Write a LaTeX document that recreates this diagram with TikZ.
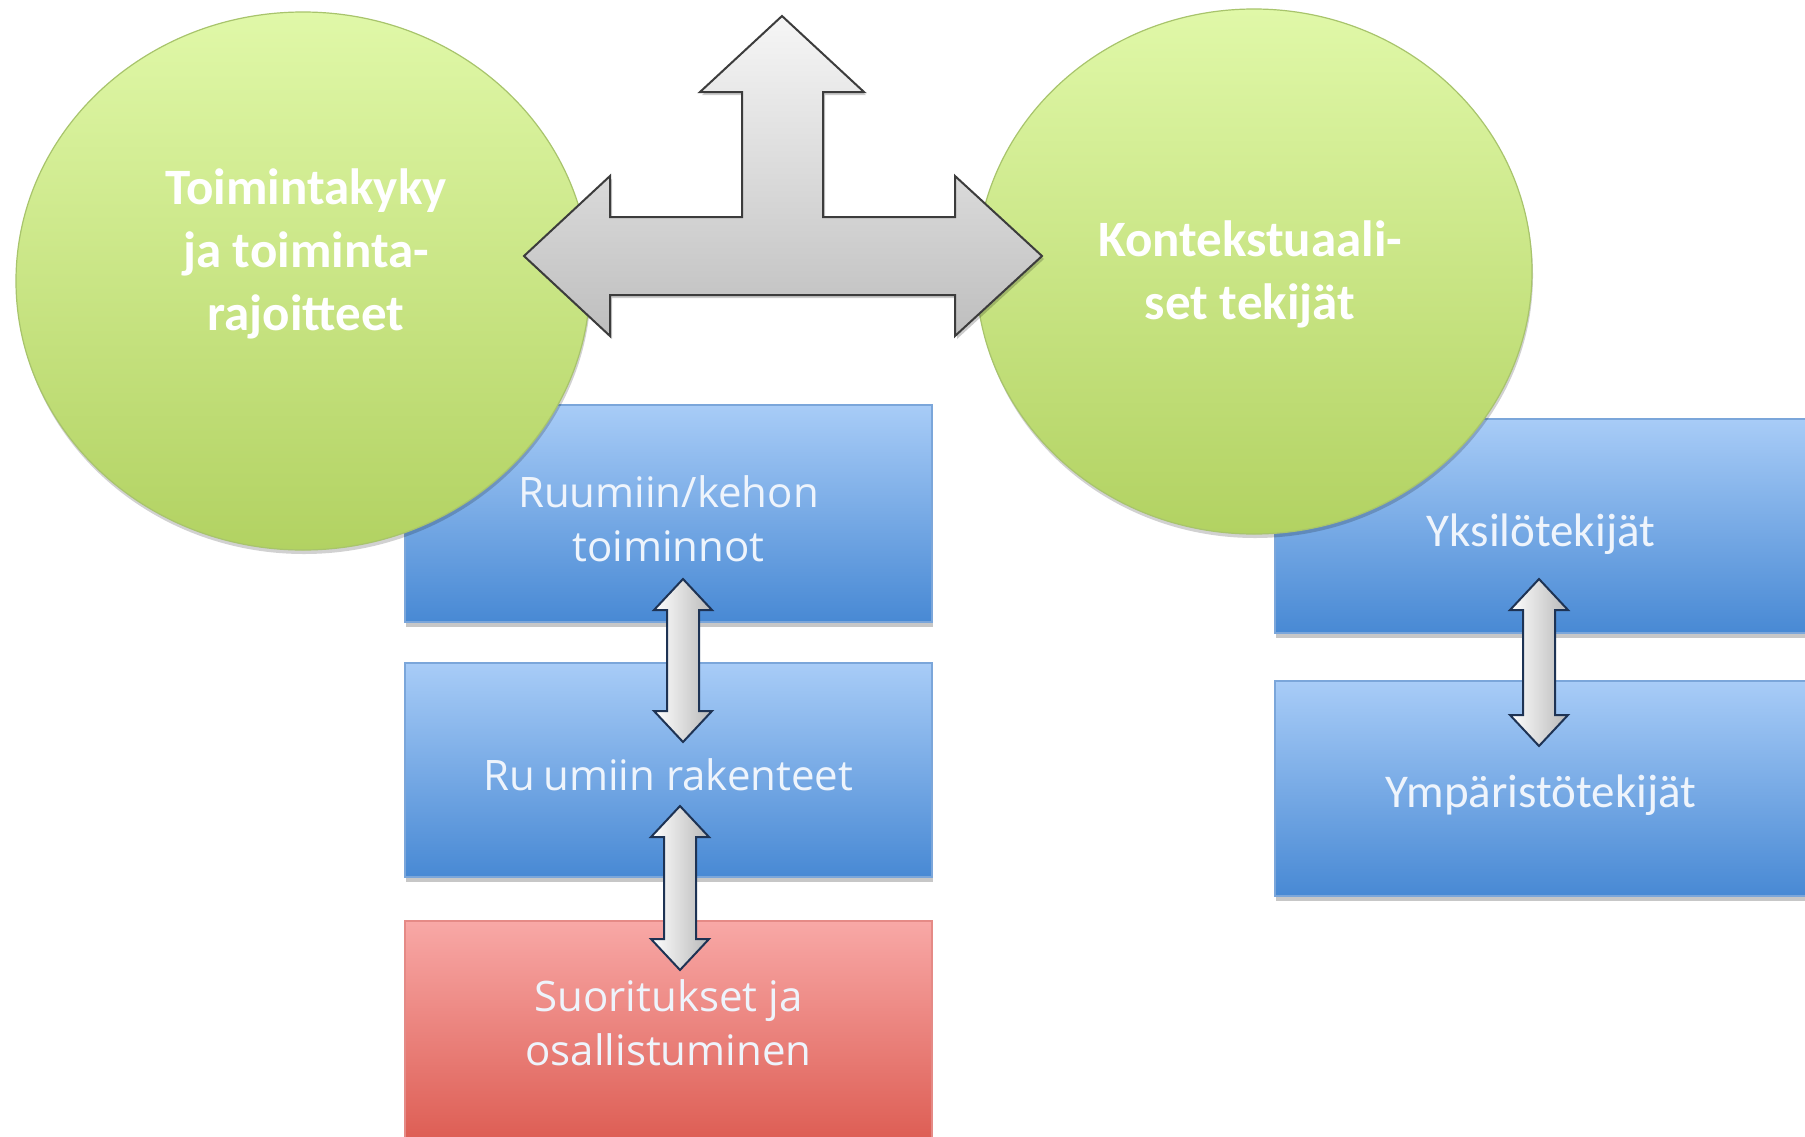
\documentclass[tikz,border=0pt]{standalone}
\usepackage{fontspec}
\setmainfont{Carlito}
\newfontfamily\ellfont{Carlito}[BoldFont={Carlito Bold}]
\newfontfamily\rfont{Carlito}
\newfontfamily\boxfont{Open Sans}
\usetikzlibrary{shapes.geometric,shadows}
\definecolor{gtop}{HTML}{E0F8A8}
\definecolor{gbot}{HTML}{B2D262}
\definecolor{gedge}{HTML}{A8C46C}
\definecolor{btop}{HTML}{A8CCF7}
\definecolor{bbot}{HTML}{4889D4}
\definecolor{bedge}{HTML}{7BA6DA}
\definecolor{rtop}{HTML}{F8A8A6}
\definecolor{rbot}{HTML}{DC5A50}
\definecolor{redge}{HTML}{E58A86}
\definecolor{atop}{HTML}{F6F6F6}
\definecolor{abot}{HTML}{BEBEBE}
\definecolor{aedge}{HTML}{3C3C3C}
\definecolor{sedge}{HTML}{1E3354}
\definecolor{boxtext}{HTML}{EEF4FC}
\tikzset{
  ell/.style={ellipse, inner sep=0pt, draw=gedge, line width=1.2pt, top color=gtop, bottom color=gbot,
    drop shadow={shadow xshift=1pt, shadow yshift=-4pt, opacity=0.18, fill=black}},
  elltext/.style={font=\ellfont\bfseries\fontsize{51}{63}\selectfont, text=white, align=center, inner sep=0pt},
  bluebox/.style={rectangle, inner sep=0pt, draw=bedge, line width=1.2pt, top color=btop, bottom color=bbot,
    drop shadow={shadow xshift=1pt, shadow yshift=-5pt, opacity=0.22, fill=black}},
  redbox/.style={rectangle, inner sep=0pt, draw=redge, line width=1.2pt, top color=rtop, bottom color=rbot},
  ltext/.style={font=\boxfont\fontsize{42}{54}\selectfont, text=boxtext, align=center},
  rtext/.style={font=\rfont\fontsize{47}{60}\selectfont, text=boxtext, align=center},
  bigarrow/.style={draw=aedge, line width=2pt, line join=miter, top color=atop, bottom color=abot,
    drop shadow={shadow xshift=2pt, shadow yshift=-3pt, opacity=0.2, fill=black}},
  smallarrow/.style={draw=sedge, line width=2pt, line join=miter, left color=white, right color=black!28},
  pics/vdbl/.style={code={
    \path[smallarrow] (0,0) -- (29,31) -- (16,31) -- (16,#1-31) -- (29,#1-31) -- (0,#1)
      -- (-29,#1-31) -- (-16,#1-31) -- (-16,31) -- (-29,31) -- cycle;}}
}
\begin{document}
\begin{tikzpicture}[x=1pt,y=-1pt]
\useasboundingbox (0,0) rectangle (1805,1136);
\fill[white] (0,0) rectangle (1805,1136);

% left column boxes
\node[bluebox, minimum width=527, minimum height=217] (b1) at (668.5,513.5) {};
\node[ltext] (b1t) at (668.5,519) {Ruumiin/kehon\\toiminnot};
\node[bluebox, minimum width=527, minimum height=214] (b2) at (668.5,770) {};
\node[ltext] (b2t) at (668.5,775) {Ru\kern8pt umiin rakenteet};
\node[redbox, minimum width=527, minimum height=230] (b3) at (668.5,1036) {};
\node[ltext] (b3t) at (668.5,1023) {Suoritukset ja\\osallistuminen};

% right column boxes
\node[bluebox, minimum width=540, minimum height=214] (r1) at (1545,526) {};
\node[rtext] (r1t) at (1541,534) {Yksilötekijät};
\node[bluebox, minimum width=540, minimum height=215] (r2) at (1545,788.5) {};
\node[rtext] (r2t) at (1541,795) {Ympäristötekijät};

% ellipses
\node[ell, minimum width=574, minimum height=538] (e1) at (303,281) {};
\node[elltext] (e1t) at (306,254) {Toimintakyky\\ja toiminta-\\rajoitteet};
\node[ell, minimum width=556, minimum height=525] (e2) at (1254,271.5) {};
\node[elltext] (e2t) at (1250,274) {Kontekstuaali-\\set tekijät};

% big T arrow
\path[bigarrow] (524,256) -- (610,176) -- (610,217) -- (742,217) -- (742,92) -- (700,92)
  -- (782,16) -- (864,92) -- (823,92) -- (823,217) -- (955,217) -- (955,176) -- (1042,256)
  -- (955,336) -- (955,295) -- (610,295) -- (610,336) -- cycle;

% small double arrows
\coordinate (a1) at (683,579);
\coordinate (a2) at (680,806);
\coordinate (a3) at (1539,579);
\pic at (a1) {vdbl=163};
\pic at (a2) {vdbl=164};
\pic at (a3) {vdbl=167};
\end{tikzpicture}
\end{document}
